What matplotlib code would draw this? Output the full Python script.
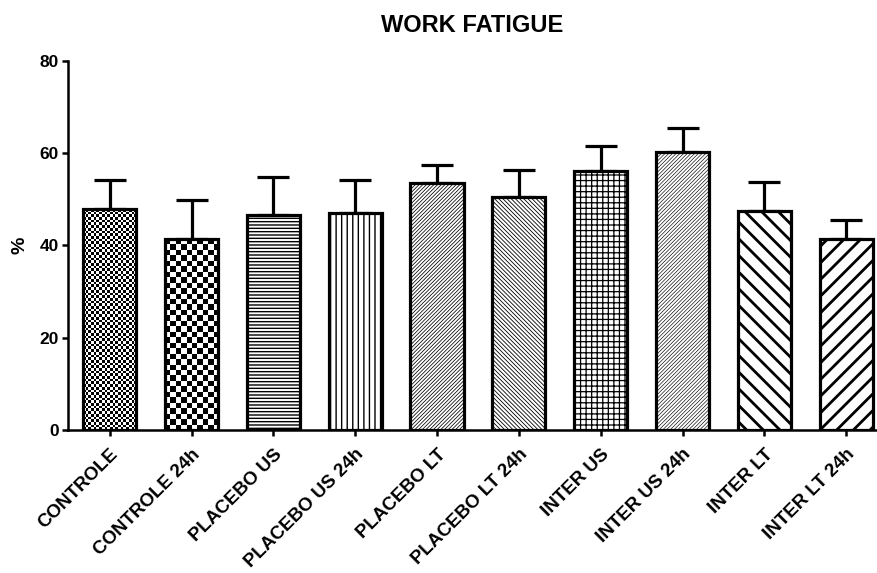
import numpy as np
import matplotlib
matplotlib.use('Agg')
from matplotlib import pyplot as plt

groups = ['CONTROLE', 'CONTROLE 24h', 'PLACEBO US', 'PLACEBO US 24h', 'PLACEBO LT',
          'PLACEBO LT 24h', 'INTER US', 'INTER US 24h', 'INTER LT', 'INTER LT 24h']
means = [47.9, 41.4, 46.6, 47.0, 53.6, 50.5, 56.2, 60.3, 47.5, 41.4]
errs = [6.3, 8.5, 8.3, 7.2, 3.9, 5.9, 5.4, 5.2, 6.3, 4.1]
# None -> checkerboard fill (cell size in px)
hatches = [None, None, '-----', '|||', '/' * 9, '\\' * 8, '+++', '/' * 9, '\\\\', '//']
checker_px = [2.7, 5.5, 0, 0, 0, 0, 0, 0, 0, 0]
hatch_lw = [1, 1, 1.0, 1.0, 0.55, 0.6, 0.9, 0.45, 2.0, 2.0]

plt.rcParams['font.family'] = ['Liberation Sans', 'DejaVu Sans']
plt.rcParams['font.weight'] = 'bold'
plt.rcParams['hatch.linewidth'] = 1.0

fig = plt.figure(figsize=(8.78, 5.73), dpi=100)
ax = fig.add_axes([0.0774, 0.2496, 0.92, 0.644])
x = np.arange(len(groups))

ax.errorbar(x, means, yerr=[np.zeros(len(errs)), errs], fmt='none', ecolor='black',
            elinewidth=2.3, capsize=11.5, capthick=2.3, zorder=1)
bars = ax.bar(x, means, width=0.65, color='white', edgecolor='black', linewidth=2.3, zorder=2)
for b, h, lw in zip(bars, hatches, hatch_lw):
    if h is not None:
        b.set_hatch(h)
        if hasattr(b, 'set_hatch_linewidth'):
            b.set_hatch_linewidth(lw)
    else:
        b.set_facecolor('none')

ax.set_xlim(-0.51, 9.36)
ax.set_ylim(0, 80)

# checkerboard fills clipped to the bars
for b, cpx in zip(bars, checker_px):
    if cpx <= 0:
        continue
    x0, w, hgt = b.get_x(), b.get_width(), b.get_height()
    p0 = ax.transData.transform((x0, 0))
    p1 = ax.transData.transform((x0 + w, hgt))
    nx = max(1, int(round((p1[0] - p0[0]) / cpx)))
    ny = max(1, int(round((p1[1] - p0[1]) / cpx)))
    arr = np.indices((ny, nx)).sum(axis=0) % 2
    im = ax.imshow(arr, cmap='gray', extent=[x0, x0 + w, 0, hgt], interpolation='nearest',
                   aspect='auto', zorder=1.5, origin='lower')
    im.set_clip_path(b)
ax.set_xlim(-0.51, 9.36)
ax.set_ylim(0, 80)

for s in ['top', 'right']:
    ax.spines[s].set_visible(False)
for s in ['left', 'bottom']:
    ax.spines[s].set_linewidth(1.8)

ax.set_yticks([0, 20, 40, 60, 80])
ax.tick_params(axis='y', labelsize=12.5, width=1.8, length=4.5, pad=2)
ax.tick_params(axis='x', labelsize=13.5, width=1.8, length=4.5, pad=7)
ax.set_xticks(x)
ax.set_xticklabels(groups, rotation=45, ha='right', rotation_mode='anchor', fontweight='bold')
for t in ax.get_yticklabels():
    t.set_fontweight('bold')

ax.set_ylabel('%', fontsize=14, fontweight='bold', labelpad=8)
ax.set_title('WORK FATIGUE', fontsize=17, fontweight='bold', pad=21)

fig.savefig('out.png', dpi=100)
